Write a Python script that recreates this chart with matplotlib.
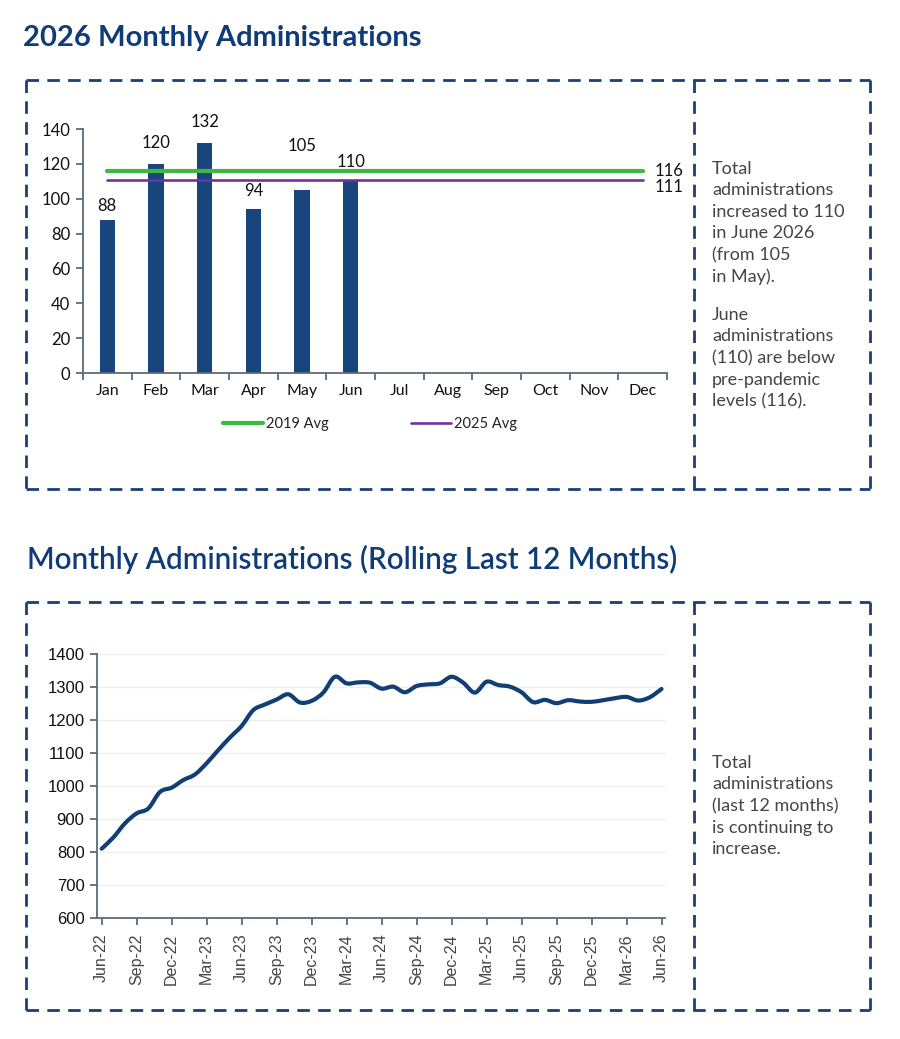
import matplotlib
matplotlib.use("Agg")
import matplotlib.pyplot as plt
from matplotlib.lines import Line2D
from matplotlib.path import Path
from matplotlib.patches import PathPatch
import numpy as np

plt.rcParams['font.family'] = ['Lato', 'DejaVu Sans']

# ---------------- data ----------------
months = ["Jan", "Feb", "Mar", "Apr", "May", "Jun", "Jul", "Aug", "Sep", "Oct", "Nov", "Dec"]
admin_2026 = [88, 120, 132, 94, 105, 110]
avg_2019 = 116
avg_2025 = 111

rolling_labels = ["Jun-22", "Sep-22", "Dec-22", "Mar-23", "Jun-23", "Sep-23", "Dec-23", "Mar-24",
                  "Jun-24", "Sep-24", "Dec-24", "Mar-25", "Jun-25", "Sep-25", "Dec-25", "Mar-26", "Jun-26"]
rolling_values = [810, 844, 887, 917, 932, 982, 995, 1018, 1035, 1069, 1109, 1147, 1182,
                  1230, 1247, 1262, 1278, 1253, 1258, 1283, 1331, 1311, 1314, 1313, 1295,
                  1301, 1284, 1303, 1308, 1311, 1331, 1313, 1283, 1316, 1306, 1301, 1284,
                  1254, 1261, 1251, 1260, 1256, 1255, 1260, 1266, 1270, 1259, 1269, 1294]

title_top = "2026 Monthly Administrations"
title_bottom = "Monthly Administrations (Rolling Last 12 Months)"
note_top_1 = "Total\nadministrations\nincreased to 110\nin June 2026\n(from 105\nin May)."
note_top_2 = "June\nadministrations\n(110) are below\npre-pandemic\nlevels (116)."
note_bottom = "Total\nadministrations\n(last 12 months)\nis continuing to\nincrease."

# label offsets above bars (points) - styling only
label_offsets = [4, 9, 9, 7, 26, 8]

# ---------------- styling ----------------
W, H = 900, 1039
DPI = 100
NAVY = '#17457c'
BOX = '#1b3f78'
AXC = '#5b6b7a'
TXT = '#454545'
TITLE = '#0f3c78'
ARIAL = ['Liberation Sans', 'DejaVu Sans']

fig = plt.figure(figsize=(W / DPI, H / DPI), dpi=DPI)


def fx(px):
    return px / W


def fy(py):
    return 1 - py / H


def axes_px(left, top, right, bottom):
    return fig.add_axes([fx(left), fy(bottom), (right - left) / W, (bottom - top) / H])


def dashed_box(left, top, right, bottom, divider):
    kw = dict(color=BOX, lw=2.0, linestyle=(0, (4.5, 3)), transform=fig.transFigure, clip_on=False)
    fig.add_artist(Line2D([fx(left), fx(right)], [fy(top), fy(top)], **kw))
    fig.add_artist(Line2D([fx(left), fx(right)], [fy(bottom), fy(bottom)], **kw))
    fig.add_artist(Line2D([fx(left), fx(left)], [fy(top), fy(bottom)], **kw))
    fig.add_artist(Line2D([fx(right), fx(right)], [fy(top), fy(bottom)], **kw))
    fig.add_artist(Line2D([fx(divider), fx(divider)], [fy(top), fy(bottom)], **kw))


def smooth_path(xs, ys):
    """Catmull-Rom style Bezier through the data points (like a smoothed line)."""
    pts = np.column_stack([xs, ys]).astype(float)
    n = len(pts)
    verts = [pts[0]]
    codes = [Path.MOVETO]
    for i in range(n - 1):
        p0 = pts[i - 1] if i > 0 else pts[i]
        p1 = pts[i]
        p2 = pts[i + 1]
        p3 = pts[i + 2] if i + 2 < n else pts[i + 1]
        c1 = p1 + (p2 - p0) / 6.0
        c2 = p2 - (p3 - p1) / 6.0
        verts += [c1, c2, p2]
        codes += [Path.CURVE4] * 3
    return Path(verts, codes)


# titles
fig.text(fx(23), fy(38), title_top, fontsize=21, fontweight='bold', color=TITLE, va='center', ha='left')
fig.text(fx(27), fy(559), title_bottom, fontsize=21.3, fontweight='semibold', color=TITLE, va='center', ha='left')

dashed_box(26, 80, 870, 489, 694)
dashed_box(26, 602, 870, 1010, 694)

# ---------------- top chart ----------------
ax1 = axes_px(83, 129, 667, 373)
x = np.arange(len(months))
ax1.bar(x[:len(admin_2026)], admin_2026, width=0.32, color=NAVY, zorder=2)
for xi, v, off in zip(x, admin_2026, label_offsets):
    ax1.annotate(str(v), (xi, v), xytext=(0, off), textcoords='offset points',
                 ha='center', va='bottom', fontsize=12, color='#111111', zorder=4)
l19, = ax1.plot([x[0], x[-1]], [avg_2019, avg_2019], color='#3db843', lw=3.0,
                solid_capstyle='round', zorder=3, label='2019 Avg')
l25, = ax1.plot([x[0], x[-1]], [avg_2025, avg_2025], color='#7030a0', lw=1.9,
                solid_capstyle='round', zorder=3, label='2025 Avg')
ax1.text(x[-1] + 0.24, avg_2019, str(avg_2019), fontsize=12, va='center', ha='left', color='#111111')
ax1.text(x[-1] + 0.24, avg_2025 - 4, str(avg_2025), fontsize=12, va='center', ha='left', color='#111111')

ax1.set_xlim(-0.5, len(months) - 0.5)
ax1.set_ylim(0, 140)
ax1.set_yticks(np.arange(0, 141, 20))
ax1.set_xticks(x)
ax1.set_xticklabels(months)
ax1.set_xticks(np.arange(-0.5, len(months), 1), minor=True)
ax1.tick_params(axis='x', which='major', length=0, pad=8, labelsize=11.5, labelcolor='#111111')
ax1.tick_params(axis='x', which='minor', length=5, width=1.3, color=AXC, direction='out')
ax1.tick_params(axis='y', length=5, width=1.3, color=AXC, labelsize=12, labelcolor='#111111', pad=4)
for s in ['top', 'right']:
    ax1.spines[s].set_visible(False)
for s in ['left', 'bottom']:
    ax1.spines[s].set_color(AXC)
    ax1.spines[s].set_linewidth(1.3)

leg = ax1.legend(handles=[l19, l25], loc='center', bbox_to_anchor=((370 - 83) / 584, (373 - 424) / 244),
                 ncol=2, frameon=False, fontsize=10.5, handlelength=2.75, handletextpad=0.2,
                 columnspacing=5.6)
for t in leg.get_texts():
    t.set_color('#222222')

# top notes
fig.text(fx(712), fy(161), note_top_1, fontsize=13, color=TXT, va='top', ha='left', linespacing=1.42)
fig.text(fx(712), fy(307), note_top_2, fontsize=13, color=TXT, va='top', ha='left', linespacing=1.42)

# ---------------- bottom chart ----------------
ax2 = axes_px(97, 654, 665, 918)
xi2 = np.arange(len(rolling_values))
ax2.add_patch(PathPatch(smooth_path(xi2, rolling_values), facecolor='none', edgecolor='#123f73',
                        lw=3.0, joinstyle='round', capstyle='round', zorder=3))
ax2.set_xlim(-0.4, len(rolling_values) - 1 + 0.3)
ax2.set_ylim(600, 1400)
ax2.set_yticks(np.arange(600, 1401, 100))
ax2.grid(axis='y', color='#eeeeee', lw=1.0, zorder=0)
ax2.set_xticks(np.arange(0, len(rolling_values), 3))
ax2.set_xticklabels(rolling_labels, rotation=90, family=ARIAL)
for lab in ax2.get_yticklabels():
    lab.set_family(ARIAL)
ax2.tick_params(axis='x', length=5, width=1.3, color=AXC, labelsize=11.5, labelcolor=TXT, pad=6)
ax2.tick_params(axis='y', length=5, width=1.3, color=AXC, labelsize=12, labelcolor='#111111', pad=4)
for s in ['top', 'right']:
    ax2.spines[s].set_visible(False)
for s in ['left', 'bottom']:
    ax2.spines[s].set_color(AXC)
    ax2.spines[s].set_linewidth(1.3)

fig.text(fx(712), fy(806), note_bottom, fontsize=13, color=TXT, va='center', ha='left', linespacing=1.42)

fig.savefig('out.png', dpi=DPI)
